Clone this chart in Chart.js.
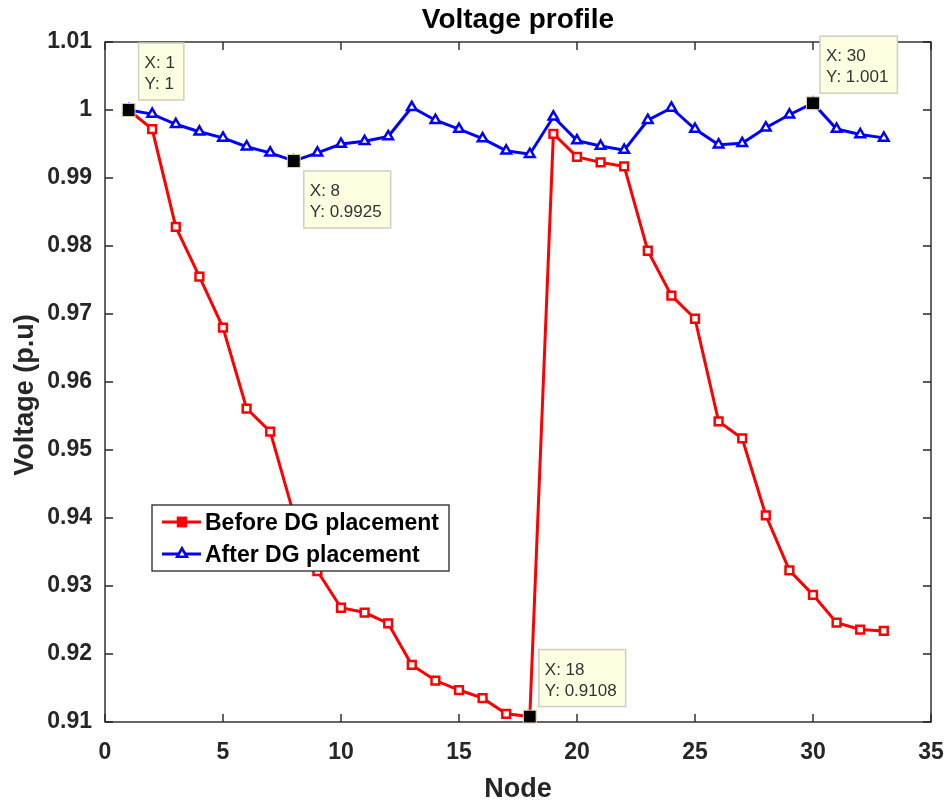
<!DOCTYPE html>
<html><head><meta charset="utf-8">
<script src="https://cdn.jsdelivr.net/npm/chart.js@4/dist/chart.umd.min.js"></script>
<style>html,body{margin:0;padding:0;background:#fff}#wrap{position:relative;width:949px;height:802px}</style>
</head><body><div id="wrap"><canvas id="c" width="949" height="802"></canvas></div>
<script>
// ---- data ----
const chartTitle = 'Voltage profile';
const xLabel = 'Node';
const yLabel = 'Voltage (p.u)';
const nodes = [1,2,3,4,5,6,7,8,9,10,11,12,13,14,15,16,17,18,19,20,21,22,23,24,25,26,27,28,29,30,31,32,33];
const beforeDG = [1.0,0.9972,0.9828,0.9755,0.9680,0.9561,0.9527,0.9405,0.9322,0.9268,0.9261,0.9245,0.9184,0.9161,0.9147,0.9135,0.9112,0.9108,
                  0.9965,0.9931,0.9923,0.9917,0.9793,0.9727,0.9693,0.9542,0.9517,0.9404,0.9323,0.9287,0.9246,0.9236,0.9234];
const afterDG  = [1.0,0.9994,0.9979,0.9968,0.9959,0.9946,0.9937,0.9925,0.9937,0.9950,0.9954,0.9961,1.0004,0.9985,0.9972,0.9958,0.9940,0.9935,
                  0.9990,0.9955,0.9947,0.9941,0.9985,1.0003,0.9972,0.9949,0.9951,0.9974,0.9993,1.001,0.9972,0.9964,0.9959];
const xTicks = [0,5,10,15,20,25,30,35];
const yTicks = [0.91,0.92,0.93,0.94,0.95,0.96,0.97,0.98,0.99,1.00,1.01];
const seriesNames = ['Before DG placement','After DG placement'];
const tipSeries = [1,1,0,1];      // dataset index of each data tip
const tipNodes  = [1,8,18,30];    // node of each data tip

// ---- styling (not data) ----
const tipPlacement = [{dx:10,dy:-10,up:true},{dx:10,dy:10,up:false},{dx:9,dy:-10,up:true},{dx:7,dy:-10,up:true}];
const AX = '#262626';
const FONT = '"Liberation Sans", Arial, Helvetica, sans-serif';

const fmt = v => String(parseFloat(v.toPrecision(4)));

const decor = {
  id:'decor',
  afterDraw(chart){
    const ctx = chart.ctx, a = chart.chartArea, xs = chart.scales.x, ys = chart.scales.y;
    ctx.save();
    // box
    ctx.strokeStyle = AX; ctx.lineWidth = 1.4;
    ctx.strokeRect(a.left, a.top, a.right-a.left, a.bottom-a.top);
    // inward ticks
    const TL = 8;
    ctx.beginPath();
    xTicks.forEach(t=>{const px = xs.getPixelForValue(t);
      ctx.moveTo(px,a.bottom); ctx.lineTo(px,a.bottom-TL);
      ctx.moveTo(px,a.top); ctx.lineTo(px,a.top+TL);});
    yTicks.forEach(t=>{const py = ys.getPixelForValue(t);
      ctx.moveTo(a.left,py); ctx.lineTo(a.left+TL,py);
      ctx.moveTo(a.right,py); ctx.lineTo(a.right-TL,py);});
    ctx.stroke();
    // titles
    ctx.fillStyle = '#000';
    ctx.textAlign = 'center'; ctx.textBaseline = 'alphabetic';
    ctx.font = 'bold 28px '+FONT;
    ctx.fillText(chartTitle, (a.left+a.right)/2, 28);
    ctx.font = 'bold 27px '+FONT;
    ctx.fillStyle = AX;
    ctx.fillText(xLabel, (a.left+a.right)/2, 797);
    ctx.save();
    ctx.translate(33, 395); ctx.rotate(-Math.PI/2);
    ctx.fillText(yLabel, 0, 0);
    ctx.restore();

    // data tips
    tipNodes.forEach((n,k)=>{
      const ds = tipSeries[k];
      const vals = ds===0?beforeDG:afterDG;
      const i = nodes.indexOf(n);
      const px = xs.getPixelForValue(n), py = ys.getPixelForValue(vals[i]);
      const l1 = 'X: '+n, l2 = 'Y: '+fmt(vals[i]);
      ctx.font = '17px '+FONT;
      const w = Math.max(ctx.measureText(l1).width, ctx.measureText(l2).width) + 15;
      const h = 57;
      const pl = tipPlacement[k];
      const bx = px + pl.dx;
      const by = pl.up ? py + pl.dy - h : py + pl.dy;
      ctx.fillStyle = '#ffffe1'; ctx.fillRect(bx,by,w,h);
      ctx.strokeStyle = '#cfcfc4'; ctx.lineWidth = 1.5; ctx.strokeRect(bx,by,w,h);
      ctx.fillStyle = '#333'; ctx.textAlign='left'; ctx.textBaseline='alphabetic';
      ctx.fillText(l1, bx+6, by+25); ctx.fillText(l2, bx+6, by+46);
      // black square marker
      ctx.fillStyle = '#000'; ctx.fillRect(px-6,py-6,12,12);
      ctx.strokeStyle = '#d9cf9f'; ctx.lineWidth = 1; ctx.strokeRect(px-6.5,py-6.5,13,13);
    });

    // legend
    const lx=152, ly=505, lw=297, lh=66;
    ctx.fillStyle='#fff'; ctx.fillRect(lx,ly,lw,lh);
    ctx.strokeStyle=AX; ctx.lineWidth=1.3; ctx.strokeRect(lx,ly,lw,lh);
    chart.data.datasets.forEach((d,k)=>{
      const y = ly + 17 + k*32;
      ctx.strokeStyle = d.borderColor; ctx.lineWidth = 3;
      ctx.beginPath(); ctx.moveTo(lx+10,y); ctx.lineTo(lx+49,y); ctx.stroke();
      ctx.lineWidth = 2.5;
      Chart.helpers.drawPoint(ctx, {pointStyle:d.pointStyle, radius:5.5, rotation:0, borderWidth:2.5}, lx+30, y);
      ctx.fillStyle = k===0 ? d.borderColor : '#fff';
      ctx.fill(); ctx.stroke();
      ctx.fillStyle = '#000'; ctx.font = 'bold 23px '+FONT; ctx.textAlign='left'; ctx.textBaseline='alphabetic';
      ctx.fillText(d.label, lx+53, y+8);
    });
    ctx.restore();
  }
};

new Chart(document.getElementById('c'), {
  type:'line',
  data:{datasets:[
    {label:seriesNames[0], data:nodes.map((n,i)=>({x:n,y:beforeDG[i]})), borderColor:'#ff0000', backgroundColor:'#ff0000',
     pointStyle:'rect', pointRadius:5.5, pointBorderWidth:2.5, pointBackgroundColor:'#fff', pointBorderColor:'#ff0000', borderWidth:3, tension:0, order:2},
    {label:seriesNames[1], data:nodes.map((n,i)=>({x:n,y:afterDG[i]})), borderColor:'#0000ff', backgroundColor:'#0000ff',
     pointStyle:'triangle', pointRadius:5.5, pointBorderWidth:2.5, pointBackgroundColor:'#fff', pointBorderColor:'#0000ff', borderWidth:3, tension:0, order:1}
  ]},
  options:{
    responsive:false, animation:false, devicePixelRatio:1,
    layout:{padding:{top:42,right:18,left:0,bottom:0}},
    plugins:{legend:{display:false}, title:{display:false}, tooltip:{enabled:false}},
    scales:{
      x:{type:'linear', min:0, max:35,
         afterBuildTicks: s=>{ s.ticks = xTicks.map(v=>({value:v})); },
         afterFit: s=>{ s.height = 80; s.paddingLeft = 0; s.paddingRight = 0; },
         grid:{display:false, drawTicks:false}, border:{display:false},
         ticks:{padding:17, color:AX, font:{family:FONT, size:23, weight:'bold'}, maxRotation:0, autoSkip:false}},
      y:{type:'linear', min:0.91, max:1.01,
         afterBuildTicks: s=>{ s.ticks = yTicks.map(v=>({value:v})); },
         afterFit: s=>{ s.width = 105; s.paddingTop = 0; s.paddingBottom = 0; },
         grid:{display:false, drawTicks:false}, border:{display:false},
         ticks:{padding:13, color:AX, font:{family:FONT, size:23, weight:'bold'}, autoSkip:false,
                callback: v => String(parseFloat(Number(v).toFixed(2)))}}
    }
  },
  plugins:[decor]
});
</script></body></html>
